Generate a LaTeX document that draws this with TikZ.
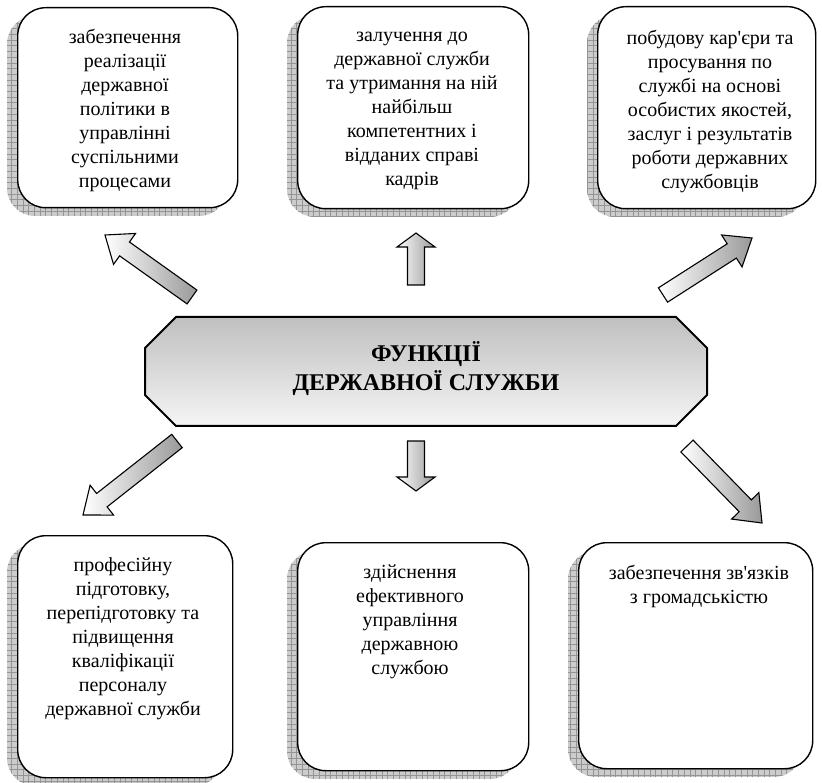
\documentclass[tikz,border=0pt]{standalone}
\usepackage{fontspec}
\setmainfont{Liberation Serif}[Ligatures=TeXOff]
\newfontfamily\boxserif{Liberation Serif}[Ligatures=TeXOff]
\usetikzlibrary{calc}

\tikzset{
  funcbox/.style={draw=black, line width=1.4pt, rounded corners=28pt, fill=white,
    inner sep=0pt, anchor=north west},
  % anchor=base sits on the last line of a multi-line node
  boxtext/.style={font=\boxserif\fontsize{20}{24}\selectfont, align=center, anchor=base, inner sep=0pt},
  hubtitle/.style={font=\boxserif\bfseries\fontsize{24}{29}\selectfont, align=center, inner sep=0pt},
  blockarr/.style={draw=black, line width=1.1pt, left color=white, right color=black!40,
    line join=miter},
  shadowgrid/.style={draw=black!42, line width=0.35pt},
}

% rounded box with a hatched (grid) shadow offset to the lower left
% #1 name, #2 #3 top-left corner, #4 #5 bottom-right corner
\newcommand\gridbox[5]{%
  \begin{scope}
    \clip[rounded corners=28pt] ($(#2,#3)+(-10,9)$) rectangle ($(#4,#5)+(-10,9)$);
    \fill[black!20] ($(#2,#3)+(-10,9)$) rectangle ($(#4,#5)+(-10,9)$);
    \draw[shadowgrid, step=5.7pt] ($(#2,#3)+(-12,7)$) grid ($(#4,#5)+(-8,11)$);
  \end{scope}
  \node[funcbox, minimum width={#4-#2}, minimum height={#5-#3}] (#1) at (#2,#3) {};
}

% block arrow from tail #1 to tip #2, head length #3
\newcommand\blockarrow[3]{%
  \coordinate (hb) at ($(#2)!#3pt!(#1)$);
  \shadedraw[blockarr]
    ($(#1)!8.5pt!90:(#2)$) -- ($(hb)!8.5pt!90:(#2)$) -- ($(hb)!19pt!90:(#2)$) -- (#2)
    -- ($(hb)!19pt!-90:(#2)$) -- ($(hb)!8.5pt!-90:(#2)$) -- ($(#1)!8.5pt!-90:(#2)$) -- cycle;
}

\begin{document}
\begin{tikzpicture}[x=1pt, y=-1pt]
\useasboundingbox (0,0) rectangle (822,783);

% six function boxes
\gridbox{b1}{17}{7}{237}{207}
\gridbox{b2}{297}{6}{528}{208}
\gridbox{b3}{597}{6}{815}{208}
\gridbox{b4}{17}{535}{232}{777}
\gridbox{b5}{297}{542}{528}{770}
\gridbox{b6}{578}{542}{812}{768}

% texts, placed by the baseline of their last line
\node[boxtext] (t1) at (125,188) {забезпечення\\реалізації\\державної\\політики в\\управлінні\\суспільними\\процесами};
\node[boxtext] (t2) at (412,185.5) {залучення до\\державної служби\\та утримання на ній\\найбільш\\компетентних і\\відданих справі\\кадрів};
\node[boxtext] (t3) at (710,188.5) {побудову кар'єри та\\просування по\\службі на основі\\особистих якостей,\\заслуг і результатів\\роботи державних\\службовців};
\node[boxtext] (t4) at (123,715.5) {професійну\\підготовку,\\перепідготовку та\\підвищення\\кваліфікації\\персоналу\\державної служби};
\node[boxtext] (t5) at (410,674) {здійснення\\ефективного\\управління\\державною\\службою};
\node[boxtext] (t6) at (699,603) {забезпечення зв'язків\\з громадськістю};

% central octagon
\shade[top color=black!25, bottom color=black!4]
  (176,317) -- (676,317) -- (707,348) -- (707,395) -- (676,426) -- (176,426) -- (145,395) -- (145,348) -- cycle;
\draw[line width=2pt, line join=miter]
  (176,317) -- (676,317) -- (707,348) -- (707,395) -- (676,426) -- (176,426) -- (145,395) -- (145,348) -- cycle;
\node[hubtitle] (hub) at (426,369) {ФУНКЦІЇ\\ДЕРЖАВНОЇ СЛУЖБИ};

% arrow end points
\coordinate (a1s) at (192,297); \coordinate (a1e) at (105,235);
\coordinate (a2s) at (416,285); \coordinate (a2e) at (416,233);
\coordinate (a3s) at (663,295); \coordinate (a3e) at (752,238);
\coordinate (a4s) at (177,441); \coordinate (a4e) at (83,515);
\coordinate (a5s) at (416,441); \coordinate (a5e) at (416,491);
\coordinate (a6s) at (687,446); \coordinate (a6e) at (762,523);

\blockarrow{a1s}{a1e}{24}
\blockarrow{a2s}{a2e}{14}
\blockarrow{a3s}{a3e}{24}
\blockarrow{a4s}{a4e}{24}
\blockarrow{a5s}{a5e}{14}
\blockarrow{a6s}{a6e}{24}
\end{tikzpicture}
\end{document}
